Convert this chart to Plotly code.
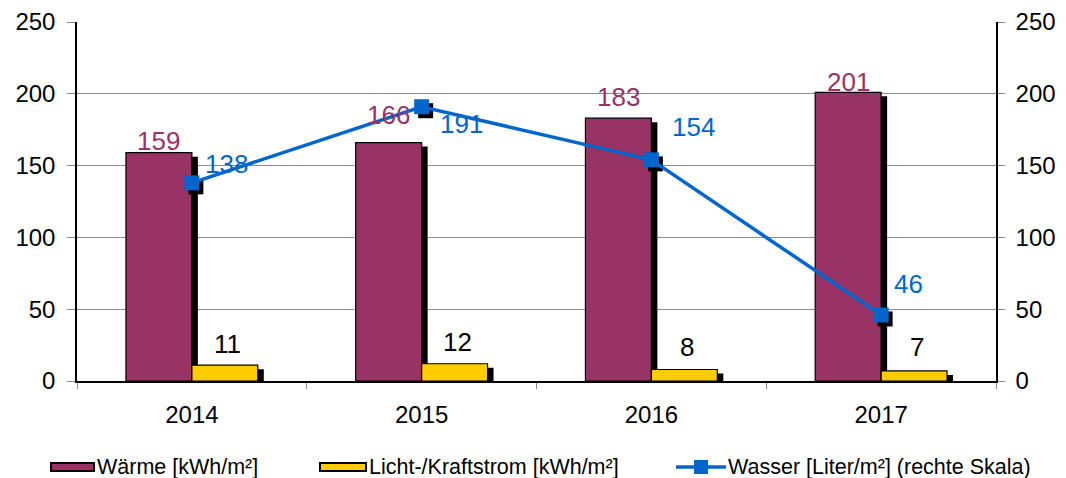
import plotly.graph_objects as go

# ---- data ----
years = ["2014", "2015", "2016", "2017"]
waerme = [159, 166, 183, 201]          # kWh/m²
strom = [11, 12, 8, 7]                 # kWh/m²
wasser = [138, 191, 154, 46]           # Liter/m² (right scale)
y_ticks = [0, 50, 100, 150, 200, 250]
legend_names = ["Wärme [kWh/m²]", "Licht-/Kraftstrom [kWh/m²]", "Wasser [Liter/m²] (rechte Skala)"]

# ---- styling ----
C_WAERME = "#993366"
C_STROM = "#FFCC00"
C_WASSER = "#0066CC"
FONT = "Liberation Sans"
OFF = 8                                  # page body margin of the browser
W, H = 1066 - OFF, 478 - OFF
ML, MT = 77 - OFF, 22 - OFF
PW, PH = 919, 359
MR, MB = W - ML - PW, H - MT - PH
Y_MAX = 250
BAR_W = 0.287
SHADOW_DX = 6 / (PW / 4)          # category units (~6 px)
SHADOW_DY = 4 * Y_MAX / PH        # value units (~4 px)
MSH_DX = 4 / (PW / 4)             # marker shadow ~4 px right
MSH_DY = 4 * Y_MAX / PH           # marker shadow ~4 px down

# label offsets in pixels (placement as in the original)
waerme_lbl_dy = [12, 28, 21, 10]
strom_lbl_dy = [21, 22, 23, 24]
wasser_lbl_dx = [35, 40, 42, 27]
wasser_lbl_dy = [19, -17, 33, 31]

idx = list(range(len(years)))
fig = go.Figure()

# shadows of bars
fig.add_trace(go.Bar(x=years, y=[v - SHADOW_DY for v in waerme], width=BAR_W,
                     offset=-BAR_W + SHADOW_DX, marker=dict(color="black", line=dict(width=0)),
                     showlegend=False, hoverinfo="skip"))
fig.add_trace(go.Bar(x=years, y=[max(v - SHADOW_DY, 0) for v in strom], width=BAR_W,
                     offset=SHADOW_DX, marker=dict(color="black", line=dict(width=0)),
                     showlegend=False, hoverinfo="skip"))
# bars
fig.add_trace(go.Bar(x=years, y=waerme, width=BAR_W, offset=-BAR_W, name=legend_names[0],
                     marker=dict(color=C_WAERME, line=dict(color="black", width=1.2)),
                     showlegend=False))
fig.add_trace(go.Bar(x=years, y=strom, width=BAR_W, offset=0, name=legend_names[1],
                     marker=dict(color=C_STROM, line=dict(color="black", width=1.2)),
                     showlegend=False))
# marker shadows (on shifted hidden axes)
fig.add_trace(go.Scatter(x=years, y=wasser, xaxis="x2", yaxis="y2", mode="markers",
                         marker=dict(symbol="square", size=15, color="black"),
                         showlegend=False, hoverinfo="skip"))
# line (right scale)
fig.add_trace(go.Scatter(x=years, y=wasser, xaxis="x3", yaxis="y3", mode="lines+markers",
                         name=legend_names[2], showlegend=False,
                         line=dict(color=C_WASSER, width=3.5),
                         marker=dict(symbol="square", size=15, color=C_WASSER)))

annots = []
for i, v, dy in zip(idx, waerme, waerme_lbl_dy):
    annots.append(dict(x=i - BAR_W / 2, y=v, xref="x", yref="y", text=str(v), showarrow=False,
                       yanchor="middle", yshift=dy,
                       font=dict(family=FONT, size=26, color=C_WAERME)))
for i, v, dy in zip(idx, strom, strom_lbl_dy):
    annots.append(dict(x=i + BAR_W / 2, y=v, xref="x", yref="y", text=str(v), showarrow=False,
                       yanchor="middle", yshift=dy, xshift=3,
                       font=dict(family=FONT, size=26, color="black")))
for i, v, dx, dy in zip(idx, wasser, wasser_lbl_dx, wasser_lbl_dy):
    annots.append(dict(x=i, y=v, xref="x3", yref="y3", text=str(v), showarrow=False,
                       yanchor="middle", xanchor="center", xshift=dx, yshift=dy,
                       font=dict(family=FONT, size=26, color=C_WASSER)))

# ---- custom legend (paper coords from page pixel positions) ----
def px(xp):
    return (xp - OFF - ML) / PW

def py(yp):
    return (MT + PH - (yp - OFF)) / PH

LEG_Y = 467
shapes = []
for x0, x1, col in [(51, 94, C_WAERME), (320, 366, C_STROM)]:
    shapes.append(dict(type="rect", xref="paper", yref="paper", x0=px(x0), x1=px(x1),
                       y0=py(LEG_Y + 4), y1=py(LEG_Y - 4), fillcolor=col,
                       line=dict(color="black", width=2)))
shapes.append(dict(type="line", xref="paper", yref="paper", x0=px(676), x1=px(726),
                   y0=py(LEG_Y), y1=py(LEG_Y), line=dict(color=C_WASSER, width=3.5)))
shapes.append(dict(type="rect", xref="paper", yref="paper", x0=px(694), x1=px(708),
                   y0=py(LEG_Y + 7), y1=py(LEG_Y - 7), fillcolor=C_WASSER,
                   line=dict(width=0)))
for name, xs in zip(legend_names, [95, 367, 726]):
    annots.append(dict(x=px(xs), y=py(LEG_Y), xref="paper", yref="paper", text=name,
                       showarrow=False, xanchor="left", yanchor="middle",
                       font=dict(family=FONT, size=21.5, color="black")))

fig.update_layout(
    width=W, height=H,
    margin=dict(l=ML, r=MR, t=MT, b=MB, autoexpand=False),
    paper_bgcolor="white", plot_bgcolor="white",
    barmode="overlay",
    font=dict(family=FONT, size=24, color="black"),
    showlegend=False,
    annotations=annots,
    shapes=shapes,
    xaxis=dict(type="category", range=[-0.5, 3.5], showline=True, linecolor="black", linewidth=1.5,
               ticks="outside", tickson="boundaries", ticklen=6, tickcolor="#888888",
               showgrid=False, ticklabelstandoff=11,
               tickfont=dict(family=FONT, size=24)),
    yaxis=dict(range=[0, Y_MAX], tickvals=y_ticks, showline=True, linecolor="black", linewidth=1.5,
               ticks="outside", ticklen=8, tickcolor="#888888",
               showgrid=True, gridcolor="#8c8c8c", gridwidth=1, zeroline=False,
               ticklabelstandoff=7, tickfont=dict(family=FONT, size=24)),
    xaxis2=dict(type="category", overlaying="x", anchor="y2", visible=False,
                range=[-0.5 - MSH_DX, 3.5 - MSH_DX]),
    yaxis2=dict(overlaying="y", anchor="x2", visible=False,
                range=[MSH_DY, Y_MAX + MSH_DY]),
    xaxis3=dict(type="category", overlaying="x", anchor="y3", visible=False,
                range=[-0.5, 3.5]),
    yaxis3=dict(range=[0, Y_MAX], tickvals=y_ticks, overlaying="y", side="right", anchor="x3",
                showline=True, linecolor="black", linewidth=1.5,
                ticks="outside", ticklen=7, tickcolor="#888888",
                showgrid=False, zeroline=False, ticklabelstandoff=6,
                tickfont=dict(family=FONT, size=24)),
)

fig.write_html("out.html")
